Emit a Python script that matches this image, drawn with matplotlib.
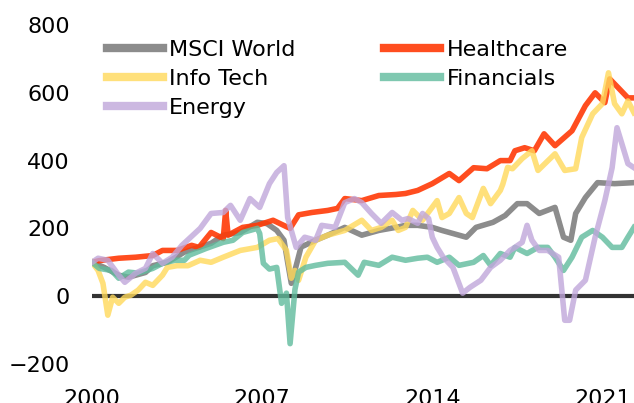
import matplotlib
matplotlib.use("Agg")
import matplotlib.pyplot as plt
import numpy as np

# Cumulative return (%) by sector
msci_t = [2000.0, 2000.5, 2001.1, 2001.5, 2001.8, 2002.2, 2002.5, 2003.1, 2003.8, 2004.0, 2004.9, 2005.4,
          2006.1, 2006.8, 2007.2, 2007.6, 2007.9, 2008.05, 2008.2, 2008.35, 2008.6, 2009.2, 2009.7, 2010.4,
          2011.1, 2011.8, 2012.5, 2012.9, 2013.4, 2014.0, 2014.4, 2015.4, 2015.8, 2016.5, 2017.0, 2017.5,
          2017.9, 2018.4, 2019.05, 2019.4, 2019.7, 2019.9, 2020.3, 2020.8, 2021.5, 2022.3]
msci_v = [100, 85, 62, 56, 62, 70, 90, 100, 130, 135, 156, 180,
          188, 218, 214, 194, 165, 100, 38, 76, 145, 165, 180, 203,
          180, 194, 203, 209, 209, 203, 194, 174, 203, 218, 238, 273,
          273, 244, 262, 174, 165, 244, 291, 335, 332, 335]

health_t = [2000.0, 2000.3, 2001.1, 2001.8, 2002.5, 2002.9, 2003.5, 2004.1, 2004.4, 2004.9, 2005.4, 2005.5,
            2005.6, 2006.2, 2006.8, 2007.45, 2008.15, 2008.5, 2009.05, 2009.7, 2010.1, 2010.4, 2011.1, 2011.8,
            2012.5, 2012.9, 2013.4, 2014.0, 2014.7, 2015.1, 2015.7, 2016.25, 2016.8, 2017.2, 2017.4, 2017.8,
            2018.2, 2018.6, 2019.05, 2019.75, 2020.3, 2020.7, 2021.1, 2021.3, 2021.65, 2022.05, 2022.3]
health_v = [100, 105, 112, 115, 120, 135, 135, 150, 144, 188, 170, 253,
            180, 203, 209, 224, 200, 240, 247, 253, 259, 288, 282, 297,
            300, 303, 312, 332, 362, 341, 379, 376, 400, 400, 429, 438,
            429, 479, 444, 488, 562, 600, 571, 641, 615, 585, 585]

tech_t = [2000.0, 2000.25, 2000.45, 2000.65, 2000.85, 2001.1, 2001.35, 2001.6, 2001.9, 2002.2, 2002.5, 2002.9,
          2003.1, 2003.5, 2003.95, 2004.45, 2004.9, 2005.4, 2006.1, 2006.8, 2007.3, 2007.65, 2008.0, 2008.2,
          2008.35, 2008.5, 2008.8, 2009.2, 2009.7, 2010.4, 2011.1, 2011.5, 2011.9, 2012.35, 2012.6, 2012.9,
          2013.2, 2013.6, 2014.2, 2014.4, 2014.7, 2015.1, 2015.4, 2015.65, 2016.1, 2016.4, 2016.8, 2016.9,
          2017.1, 2017.3, 2017.7, 2018.1, 2018.35, 2019.05, 2019.45, 2019.9, 2020.15, 2020.6, 2021.0, 2021.25,
          2021.5, 2021.8, 2022.05, 2022.3]
tech_v = [100, 76, 38, -56, -3, -21, -3, 3, 18, 41, 32, 62,
          85, 90, 90, 106, 100, 115, 135, 144, 165, 170, 135, 53,
          76, 47, 115, 165, 180, 194, 224, 194, 203, 224, 194, 203,
          253, 224, 282, 232, 244, 291, 244, 232, 318, 273, 312, 330,
          380, 376, 406, 429, 371, 420, 371, 376, 468, 538, 568, 659,
          568, 538, 576, 541]

fin_t = [2000.0, 2000.3, 2000.8, 2001.1, 2001.5, 2001.9, 2002.5, 2002.9, 2003.4, 2003.8, 2004.0, 2004.7,
         2005.4, 2005.8, 2006.2, 2006.8, 2006.9, 2007.05, 2007.3, 2007.6, 2007.8, 2008.0, 2008.15, 2008.35,
         2008.5, 2008.8, 2009.2, 2009.7, 2010.4, 2010.95, 2011.2, 2011.8, 2012.35, 2012.9, 2013.4, 2013.8,
         2014.2, 2014.7, 2015.1, 2015.7, 2016.1, 2016.4, 2016.8, 2017.2, 2017.4, 2017.9, 2018.35, 2018.75,
         2019.05, 2019.4, 2019.75, 2020.15, 2020.6, 2021.0, 2021.4, 2021.8, 2022.05, 2022.3]
fin_v = [100, 82, 76, 53, 71, 68, 82, 97, 106, 106, 121, 141,
         159, 165, 188, 200, 185, 97, 80, 85, -21, 9, -140, 20,
         71, 85, 91, 97, 100, 62, 100, 91, 115, 106, 112, 115,
         100, 115, 91, 100, 120, 91, 126, 115, 144, 126, 144, 144,
         115, 76, 115, 174, 194, 174, 144, 144, 174, 203]

energy_t = [2000.0, 2000.25, 2000.65, 2001.1, 2001.35, 2001.8, 2002.2, 2002.5, 2002.9, 2003.3, 2003.7, 2004.0,
            2004.45, 2004.9, 2005.4, 2005.7, 2006.1, 2006.5, 2006.9, 2007.3, 2007.6, 2007.9, 2008.05, 2008.4,
            2008.75, 2009.2, 2009.45, 2010.0, 2010.4, 2010.8, 2011.1, 2011.5, 2011.9, 2012.35, 2012.75, 2013.0,
            2013.4, 2013.6, 2013.85, 2014.0, 2014.2, 2014.45, 2014.85, 2015.25, 2015.55, 2016.0, 2016.4, 2016.8,
            2017.2, 2017.4, 2017.7, 2017.9, 2018.1, 2018.4, 2018.75, 2019.2, 2019.45, 2019.65, 2019.9, 2020.3,
            2020.7, 2021.1, 2021.4, 2021.6, 2021.8, 2022.05, 2022.3]
energy_v = [100, 112, 106, 62, 41, 68, 82, 126, 97, 115, 150, 170,
            200, 244, 247, 268, 224, 288, 262, 332, 365, 385, 232, 144,
            174, 165, 209, 203, 276, 288, 276, 244, 215, 247, 224, 229,
            215, 244, 229, 174, 144, 115, 85, 9, 26, 47, 85, 106,
            135, 144, 159, 209, 165, 135, 135, 115, -71, -71, 18, 47,
            174, 282, 379, 497, 450, 391, 379]

yticks = [-200, 0, 200, 400, 600, 800]
xticks = [2000, 2007, 2014, 2021]

plt.rcParams['font.family'] = ['DejaVu Sans']
fig = plt.figure(figsize=(6.34, 4.03), dpi=100)
ax = fig.add_axes([92 / 634, 39 / 403, 542 / 634, 339 / 403])

lw = 4
ax.axhline(0, color='#333333', lw=3, zorder=1)
l_msci, = ax.plot(msci_t, msci_v, color='#6f6f6f', lw=lw, alpha=0.8, label='MSCI World', zorder=2)
l_health, = ax.plot(health_t, health_v, color='#ff3a06', lw=lw, alpha=0.9, label='Healthcare', zorder=3)
l_tech, = ax.plot(tech_t, tech_v, color='#ffd95a', lw=lw, alpha=0.8, label='Info Tech', zorder=4)
l_fin, = ax.plot(fin_t, fin_v, color='#5fbb9c', lw=lw, alpha=0.8, label='Financials', zorder=5)
l_energy, = ax.plot(energy_t, energy_v, color='#c0a6da', lw=lw, alpha=0.8, label='Energy', zorder=6)

ax.set_xlim(2000, 2022.3)
ax.set_ylim(-200, 800)
ax.set_yticks(yticks)
ax.set_xticks(xticks)
ax.tick_params(axis='y', length=0, labelsize=16, pad=16)
ax.tick_params(axis='x', length=0, labelsize=16, pad=18)
for s in ax.spines.values():
    s.set_visible(False)

leg = fig.legend(handles=[l_msci, l_tech, l_energy, l_health, l_fin], ncol=2, frameon=False,
                 loc='upper left', bbox_to_anchor=(107 / 634, 1 - 40 / 403), fontsize=16,
                 handlelength=2.5, handletextpad=0.3, columnspacing=4.0, labelspacing=0.4,
                 borderpad=0, borderaxespad=0)
for h in leg.legend_handles:
    h.set_linewidth(6)

fig.savefig('out.png', dpi=100)
